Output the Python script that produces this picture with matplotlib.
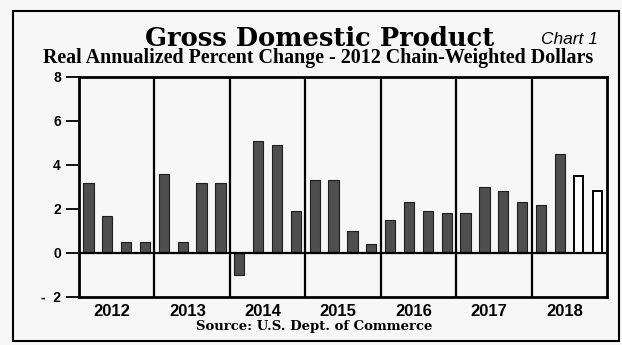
import matplotlib
matplotlib.use('Agg')
import matplotlib.pyplot as plt
from matplotlib.patches import Rectangle

# ---- data ----
years = ['2012', '2013', '2014', '2015', '2016', '2017', '2018']
gdp_actual = [3.2, 1.7, 0.5, 0.5,
              3.6, 0.5, 3.2, 3.2,
              -1.0, 5.1, 4.9, 1.9,
              3.3, 3.3, 1.0, 0.4,
              1.5, 2.3, 1.9, 1.8,
              1.8, 3.0, 2.8, 2.3,
              2.2, 4.5]
gdp_forecast = [3.5, 2.8]
yticks = [-2, 0, 2, 4, 6, 8]
ytick_labels = ['-  2', '0', '2', '4', '6', '8']

W, H = 622, 345
BG = '#f7f7f7'
fig = plt.figure(figsize=(W / 100, H / 100), dpi=100, facecolor=BG)

def px(x, y):
    return x / W, 1 - y / H

# outer frame
fig.patches.append(Rectangle(px(13, 341), (619 - 13) / W, (341 - 11) / H,
                             transform=fig.transFigure, fill=False,
                             edgecolor='black', linewidth=1.5))

l, r, t, b = 79, 607, 77, 297
ax = fig.add_axes([l / W, 1 - b / H, (r - l) / W, (b - t) / H], facecolor=BG)

n_act = len(gdp_actual)
x_act = [i + 0.5 for i in range(n_act)]
x_fc = [n_act + i + 0.5 for i in range(len(gdp_forecast))]
ax.bar(x_act, gdp_actual, width=0.55, color='#4e4e4e', edgecolor='#1e1e1e',
       linewidth=0.8, zorder=3)
ax.bar(x_fc, gdp_forecast, width=0.5, color='white', edgecolor='black',
       linewidth=1.4, zorder=3)

nq = 4 * len(years)
ax.set_xlim(0, nq)
ax.set_ylim(-2, 8)
for k in range(1, len(years)):
    ax.axvline(4 * k, color='black', linewidth=1.6, zorder=2)
ax.axhline(0, color='black', linewidth=1.6, zorder=4)

for s in ax.spines.values():
    s.set_linewidth(2.0)
ax.set_xticks([])
ax.set_yticks(yticks)
ax.set_yticklabels(ytick_labels, fontfamily='Liberation Sans', fontweight='bold',
                   fontsize=10)
ax.tick_params(axis='y', direction='out', length=9.5, width=1.3, pad=3.5)

# year labels: baseline ~19 px below the axes bottom
for i, yr in enumerate(years):
    ax.annotate(yr, xy=(4 * i + 1.75, -2), xycoords='data',
                xytext=(0, -19 * 0.72), textcoords='offset points',
                ha='center', va='baseline',
                fontfamily='Liberation Sans', fontweight='bold', fontsize=12)

fig.text(*px(320, 38), 'Gross Domestic Product', ha='center', va='center',
         fontfamily='DejaVu Serif', fontweight='bold', fontsize=18.5)
fig.text(*px(598, 39), 'Chart 1', ha='right', va='center',
         fontfamily='Liberation Sans', fontstyle='italic', fontsize=12.5)
fig.text(*px(318, 58), 'Real Annualized Percent Change - 2012 Chain-Weighted Dollars',
         ha='center', va='center', fontfamily='Liberation Serif',
         fontweight='bold', fontsize=14.4)
fig.text(*px(314, 320), 'Source: U.S. Dept. of Commerce', ha='center', va='top',
         fontfamily='DejaVu Serif', fontweight='bold', fontsize=9.5)

fig.savefig('out.png', dpi=100, facecolor=BG)
